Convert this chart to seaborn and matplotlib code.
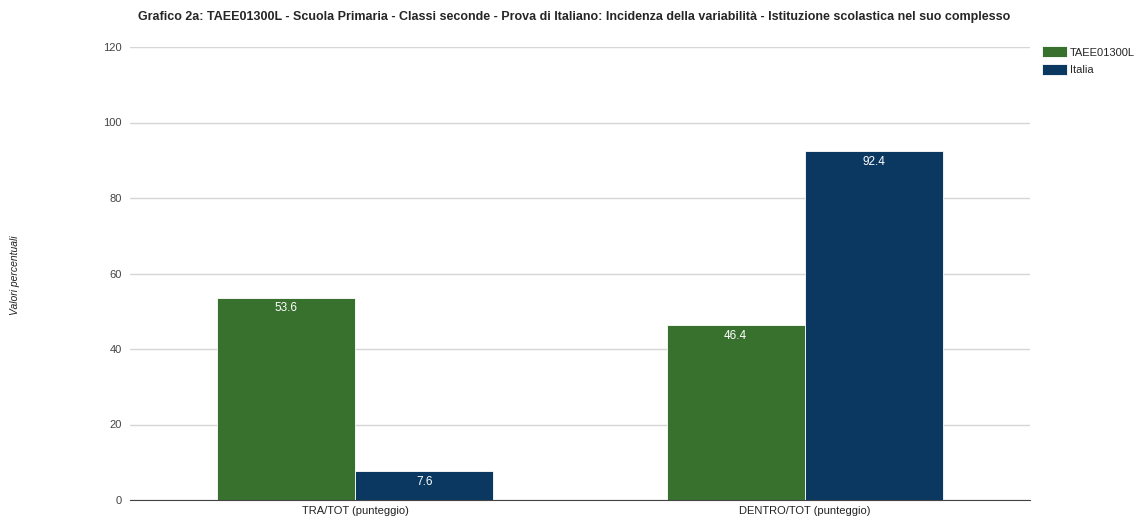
import pandas as pd
import matplotlib.pyplot as plt
import seaborn as sns

categories = ["TRA/TOT (punteggio)", "DENTRO/TOT (punteggio)"]
scuola = [53.6, 46.4]
italia = [7.6, 92.4]
series_names = ["TAEE01300L", "Italia"]

df = pd.DataFrame({
    "categoria": categories * 2,
    "valore": scuola + italia,
    "serie": [series_names[0]] * 2 + [series_names[1]] * 2,
})

sns.set_style("white")
plt.rcParams['font.family'] = ['Liberation Sans', 'DejaVu Sans']

fig = plt.figure(figsize=(11.38, 5.21), dpi=100)
ax = fig.add_axes([130 / 1138, 21 / 521, 900 / 1138, 453 / 521])

palette = {"TAEE01300L": "#38702e", "Italia": "#0b3860"}
sns.barplot(data=df, x="categoria", y="valore", hue="serie", palette=palette,
            width=0.616, gap=0.005, edgecolor="white", linewidth=0.6,
            saturation=1, ax=ax, legend=True)

for cont in ax.containers:
    ax.bar_label(cont, labels=[f"{v:.1f}" for v in cont.datavalues],
                 label_type="edge", padding=-12, color="white", fontsize=8.5)

ax.set_ylim(0, 120)
ax.set_yticks(range(0, 121, 20))
ax.set_xlim(-0.5, 1.5)
ax.yaxis.grid(True, color="#d6d6d6", linewidth=1)
ax.set_axisbelow(True)
for s in ["top", "right", "left"]:
    ax.spines[s].set_visible(False)
ax.spines["bottom"].set_color("#444444")
ax.tick_params(axis="both", length=0, labelsize=8, colors="#444444", pad=6)
ax.tick_params(axis="x", colors="#222222", pad=4)
ax.set_xlabel("")
ax.set_ylabel("")

fig.text(15 / 1138, 1 - 275 / 521, "Valori percentuali", rotation=90, style="italic",
         fontsize=7.5, va="center", ha="center", color="#222222")

fig.suptitle("Grafico 2a: TAEE01300L - Scuola Primaria - Classi seconde - Prova di Italiano: "
             "Incidenza della variabilità - Istituzione scolastica nel suo complesso",
             x=574 / 1138, y=1 - 11 / 521, fontsize=9, fontweight="bold", va="top")

handles, labels = ax.get_legend_handles_labels()
ax.legend_.remove()
fig.legend(handles, labels, loc="upper left", bbox_to_anchor=(1038 / 1138, 1 - 42 / 521),
           frameon=False, fontsize=8, handlelength=2.2, handleheight=1.1,
           handletextpad=0.3, labelspacing=0.6, borderaxespad=0)

fig.savefig("out.png", dpi=100)
